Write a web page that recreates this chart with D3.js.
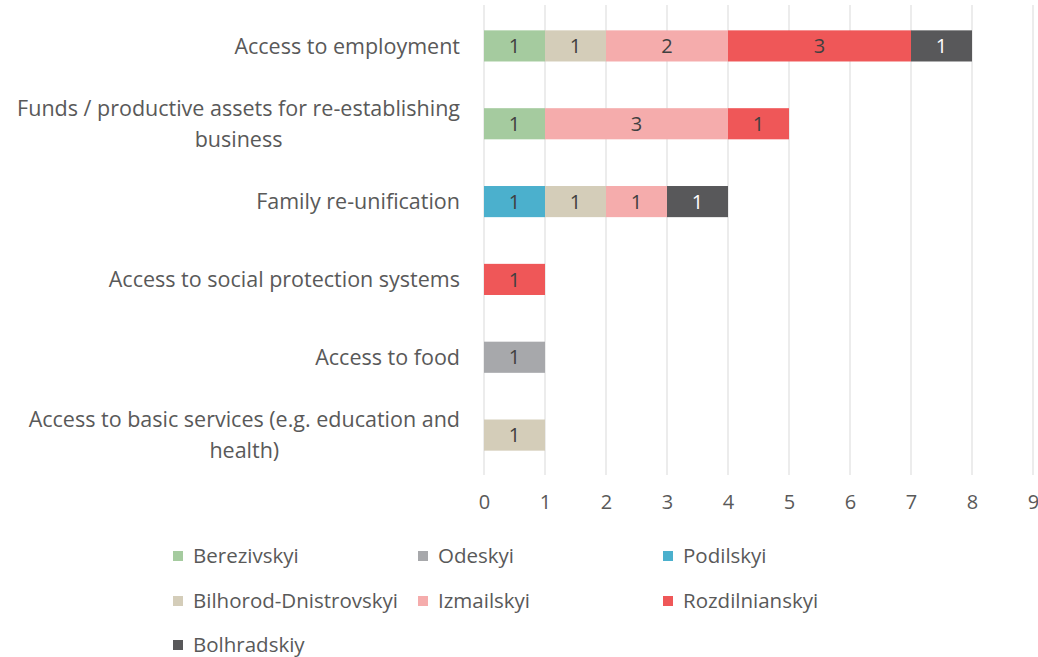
<!DOCTYPE html>
<html>
<head>
<meta charset="utf-8">
<script src="https://cdn.jsdelivr.net/npm/d3@7"></script>
<style>
  html, body { margin: 0; padding: 0; background: #fff; }
  svg { display: block; font-family: "Open Sans", "Noto Sans", sans-serif; }
</style>
</head>
<body>
<svg id="chart" width="1038" height="657"></svg>
<script>
// Needs reported per district, stacked by need
const categories = [
  ["Access to employment"],
  ["Funds / productive assets for re-establishing", "business"],
  ["Family re-unification"],
  ["Access to social protection systems"],
  ["Access to food"],
  ["Access to basic services (e.g. education and", "health)"]
];
const seriesNames = ["Berezivskyi", "Odeskyi", "Podilskyi", "Bilhorod-Dnistrovskyi", "Izmailskyi", "Rozdilnianskyi", "Bolhradskiy"];
const seriesColors = ["#A5CB9F", "#A7A8AB", "#4BB0CD", "#D4CDB9", "#F5ACAC", "#EF5758", "#58585A"];
const labelColors = ["#404040", "#404040", "#404040", "#404040", "#404040", "#404040", "#FFFFFF"];
// values per series, in category order
const berezivskyi  = [1, 1, 0, 0, 0, 0];
const odeskyi      = [0, 0, 0, 0, 1, 0];
const podilskyi    = [0, 0, 1, 0, 0, 0];
const bilhorod     = [1, 0, 1, 0, 0, 1];
const izmailskyi   = [2, 3, 1, 0, 0, 0];
const rozdilnianskyi = [3, 1, 0, 1, 0, 0];
const bolhradskiy  = [1, 0, 1, 0, 0, 0];
const tickValues = [0, 1, 2, 3, 4, 5, 6, 7, 8, 9];

const seriesValues = [berezivskyi, odeskyi, podilskyi, bilhorod, izmailskyi, rozdilnianskyi, bolhradskiy];
const keys = categories.map(c => c.join(" "));
const rows = keys.map((k, i) => {
  const r = { key: k };
  seriesNames.forEach((s, j) => r[s] = seriesValues[j][i]);
  return r;
});
const stacked = d3.stack().keys(seriesNames)(rows);

const svg = d3.select("#chart");
const x = d3.scaleLinear().domain([0, 9]).range([484, 1033]);
const y = d3.scaleBand().domain(keys).range([7, 474]).paddingInner(0.6).paddingOuter(0.3);
const textColor = "#595959";

// vertical gridlines
svg.append("g").selectAll("line").data(tickValues).join("line")
  .attr("x1", d => x(d)).attr("x2", d => x(d))
  .attr("y1", 5).attr("y2", 475)
  .attr("stroke", "#D9D9D9").attr("stroke-width", 1);

// x axis tick labels
const xAxis = d3.axisBottom(x).tickValues(tickValues).tickSize(0).tickPadding(0).tickFormat(d3.format("d"));
const gx = svg.append("g").attr("transform", "translate(0,495)").call(xAxis);
gx.select(".domain").remove();
gx.selectAll("text").attr("font-size", 20).attr("fill", textColor)
  .attr("font-family", "'Open Sans', 'Noto Sans', sans-serif").attr("dy", "0.7em");

// stacked bars
const layers = svg.append("g").selectAll("g").data(stacked).join("g")
  .attr("fill", (d, i) => seriesColors[i]);
layers.selectAll("rect").data(d => d.filter(p => p[1] - p[0] > 0)).join("rect")
  .attr("x", d => x(d[0]))
  .attr("width", d => x(d[1]) - x(d[0]))
  .attr("y", d => y(d.data.key))
  .attr("height", y.bandwidth());

// data labels
const lbl = svg.append("g").selectAll("g").data(stacked).join("g")
  .attr("fill", (d, i) => labelColors[i]);
lbl.selectAll("text").data(d => d.filter(p => p[1] - p[0] > 0)).join("text")
  .attr("x", d => (x(d[0]) + x(d[1])) / 2)
  .attr("y", d => y(d.data.key) + y.bandwidth() / 2)
  .attr("dy", "0.36em")
  .attr("text-anchor", "middle")
  .attr("font-size", 20)
  .text(d => d[1] - d[0]);

// category labels: block right-aligned to the axis, lines centred within it
const cat = svg.append("g").selectAll("text").data(categories).join("text")
  .attr("text-anchor", "middle")
  .attr("font-size", 21.5)
  .attr("fill", textColor);
cat.each(function (lines, i) {
  const cy = y(keys[i]) + y.bandwidth() / 2;
  const lh = 31;
  const y0 = cy - (lines.length - 1) * lh / 2;
  const spans = d3.select(this).selectAll("tspan").data(lines).join("tspan")
    .attr("y", (d, k) => y0 + k * lh)
    .attr("dy", "0.36em")
    .text(d => d);
  let w = 0;
  spans.each(function () { w = Math.max(w, this.getComputedTextLength()); });
  spans.attr("x", 460 - w / 2);
});

// legend
const legendPos = [[173, 556], [418, 556], [663, 556], [173, 601], [418, 601], [663, 601], [173, 645]];
const lg = svg.append("g").selectAll("g").data(seriesNames).join("g")
  .attr("transform", (d, i) => `translate(${legendPos[i][0]},${legendPos[i][1]})`);
lg.append("rect").attr("x", 0).attr("y", -5).attr("width", 10).attr("height", 10)
  .attr("fill", (d, i) => seriesColors[i]);
lg.append("text").attr("x", 20).attr("dy", "0.36em")
  .attr("font-size", 20.5).attr("fill", textColor).text(d => d);
</script>
</body>
</html>
